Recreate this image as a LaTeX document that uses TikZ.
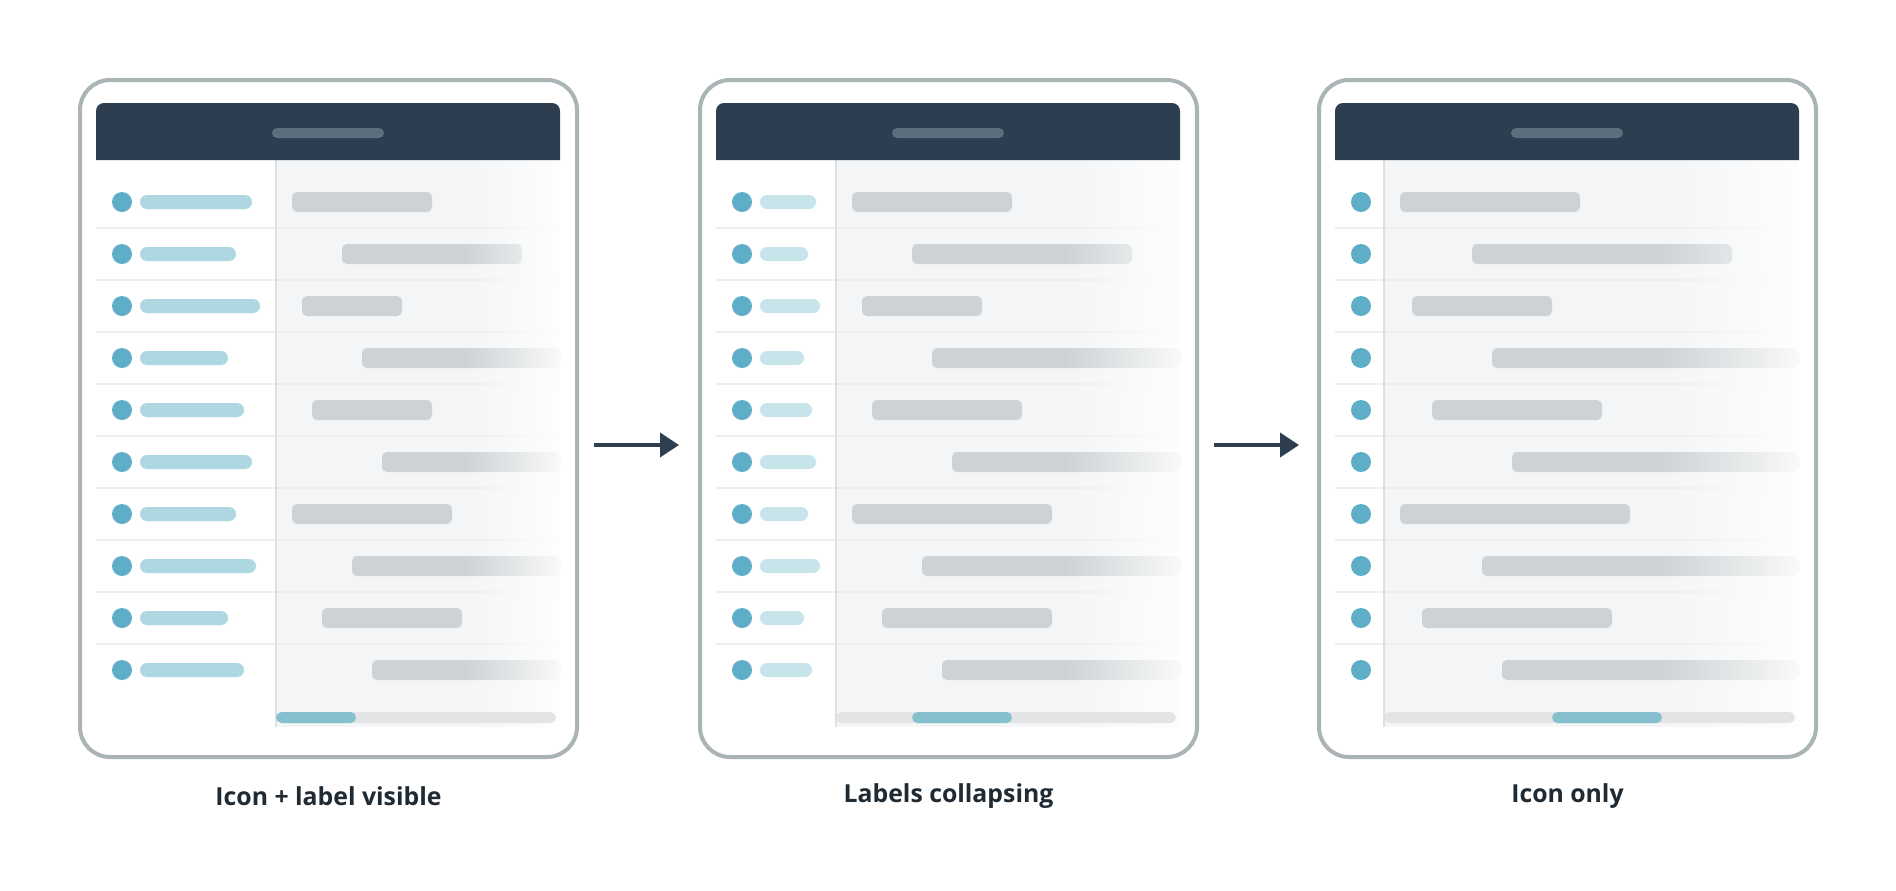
\documentclass[tikz,border=0pt]{standalone}
\usepackage{fontspec}
\setmainfont{Open Sans}
\usetikzlibrary{arrows.meta,fadings}

\definecolor{framegray}{HTML}{AAB3B5}
\definecolor{headdark}{HTML}{2C3E50}
\definecolor{headpill}{HTML}{5D6E7F}
\definecolor{iconblue}{HTML}{5FAEC7}
\definecolor{labelblue}{HTML}{ADD8E2}
\definecolor{labelpale}{HTML}{C6E4EA}
\definecolor{bargray}{HTML}{CDD2D4}
\definecolor{panebg}{HTML}{F3F5F7}
\definecolor{rowline}{HTML}{ECEEF0}
\definecolor{splitline}{HTML}{DCE0E3}
\definecolor{trackgray}{HTML}{E2E4E6}
\definecolor{thumbblue}{HTML}{86C0CF}
\definecolor{captext}{HTML}{1F2A33}

\tikzfading[name=fadeout, left color=transparent!100, right color=transparent!12]

\begin{document}
\begin{tikzpicture}[x=0.5pt, y=-0.5pt,
    frame/.style={draw=framegray, line width=2pt, rounded corners=15pt},
    bar/.style={fill=bargray, rounded corners=2.5pt},
    pill/.style={rounded corners=3.5pt},
    flow/.style={draw=headdark, line width=2pt, -{Triangle[length=9.5pt,width=12pt]}},
    caption/.style={text=captext, font=\bfseries\fontsize{12.4}{15}\selectfont}]

    \fill[white] (0,0) rectangle (1896,890);

    % L / divider / label colour / thumb / caption / rows (bar start / bar end / label width)
    \foreach \L/\dv/\lc/\tha/\thb/\cap/\rows [count=\n] in {
        80/196/labelblue/0/80/{Icon + label visible}/{212/352/112, 262/442/96, 222/322/120, 282/480/88, 232/352/104, 302/480/112, 212/372/96, 272/480/116, 242/382/88, 292/480/104},
        700/136/labelpale/76/176/{Labels collapsing}/{152/312/56, 212/432/48, 162/282/60, 232/480/44, 172/322/52, 252/480/56, 152/352/48, 222/480/60, 182/352/44, 242/480/52},
        1319/65/labelpale/168/278/{Icon only}/{81/261/0, 153/413/0, 93/233/0, 173/480/0, 113/283/0, 193/480/0, 81/311/0, 163/480/0, 103/293/0, 183/480/0}}
    {
        % content pane
        \fill[panebg] (\L+\dv,160) rectangle (\L+480,727);

        \foreach \s/\e/\w [count=\r] in \rows {
            \pgfmathsetmacro\yy{202+52*(\r-1)}
            \ifnum\r<10
                \draw[rowline, line width=0.75pt] (\L+16,\yy+26) -- (\L+480,\yy+26);
            \fi
            \fill[iconblue] (\L+42,\yy) circle (5pt);
            \ifnum\w>0
                \fill[\lc, pill] (\L+60,\yy-7) rectangle (\L+60+\w,\yy+7);
            \fi
            \fill[bar] (\L+\s,\yy-10) rectangle (\L+\e,\yy+10);
        }

        \draw[splitline, line width=1pt] (\L+\dv,160) -- (\L+\dv,727);

        % fade towards the right edge
        \pgfmathsetmacro\fw{0.34*(480-\dv)}
        \fill[white, path fading=fadeout] (\L+480-\fw,160) rectangle (\L+480,727);

        % scroll bar
        \fill[trackgray, rounded corners=2.8pt] (\L+\dv,712) rectangle (\L+476,723);
        \fill[thumbblue, rounded corners=2.8pt] (\L+\dv+\tha,712) rectangle (\L+\dv+\thb,723);

        % header
        \fill[headdark] (\L+16,160) {[rounded corners=4pt] -- (\L+16,103) -- (\L+480,103)} -- (\L+480,160) -- cycle;
        \fill[headpill, rounded corners=2.5pt] (\L+192,128) rectangle (\L+304,138);

        \draw[frame] (\L,80) rectangle (\L+497,757);
        \node[caption] (cap\n) at (\L+248.5,796) {\cap};
    }

    \coordinate (go1) at (594,445);
    \coordinate (to1) at (679,445);
    \coordinate (go2) at (1214,445);
    \coordinate (to2) at (1299,445);
    \draw[flow] (go1) -- (to1);
    \draw[flow] (go2) -- (to2);
\end{tikzpicture}
\end{document}
